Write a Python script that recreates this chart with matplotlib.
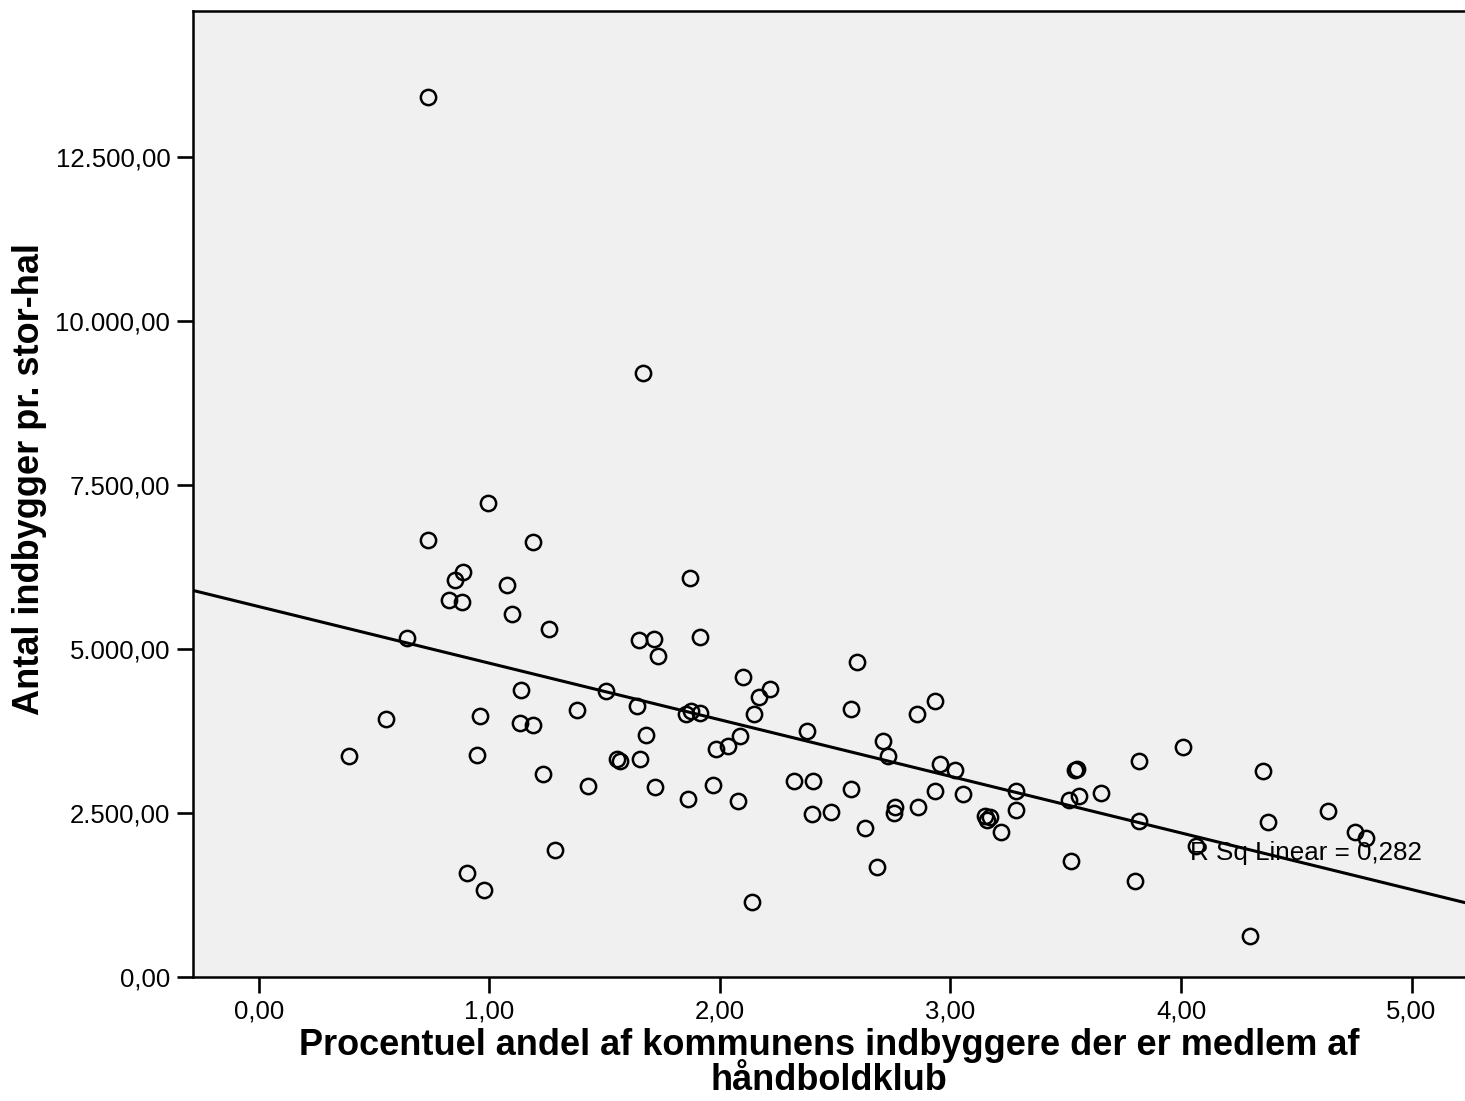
import numpy as np
import matplotlib
matplotlib.use('Agg')
import matplotlib.pyplot as plt
from matplotlib.ticker import FuncFormatter

#%% DATA
pct_members = [0.734, 1.666, 0.995, 0.734, 1.187, 0.886, 0.850, 1.076, 1.871, 0.826,
               0.881, 1.096, 1.257, 0.643, 1.649, 1.715, 1.915, 1.732, 2.593, 2.101,
               2.217, 2.168, 1.137, 1.505, 2.933, 1.639, 2.570, 2.855, 1.380, 1.852,
               1.873, 1.913, 2.149, 0.959, 0.551, 1.134, 1.189, 2.376, 1.678, 2.088,
               2.708, 2.035, 1.984, 2.730, 0.390, 0.944, 1.554, 1.566, 1.651, 2.953,
               3.018, 3.816, 4.010, 3.547, 3.542, 4.357, 1.231, 1.426, 1.718, 1.968,
               2.322, 2.402, 2.567, 2.933, 3.056, 3.283, 3.654, 3.559, 3.514, 1.861,
               2.077, 2.761, 2.755, 2.859, 2.399, 2.483, 3.283, 4.636, 3.150, 3.171,
               3.160, 3.819, 4.376, 2.629, 3.220, 4.755, 4.801, 4.065, 1.283, 3.523,
               2.681, 0.904, 0.977, 3.799, 2.139, 4.301]
residents_per_hall = [13420, 9206, 7226, 6656, 6626, 6168, 6046, 5980, 6087, 5740,
                      5710, 5527, 5308, 5171, 5130, 5156, 5180, 4896, 4798, 4576,
                      4386, 4270, 4371, 4356, 4203, 4133, 4076, 4011, 4061, 4000,
                      4050, 4026, 4000, 3974, 3924, 3873, 3832, 3745, 3684, 3679,
                      3588, 3516, 3476, 3363, 3366, 3382, 3318, 3293, 3313, 3247,
                      3160, 3293, 3501, 3171, 3153, 3145, 3089, 2905, 2890, 2931,
                      2992, 2992, 2860, 2835, 2789, 2840, 2809, 2753, 2698, 2713,
                      2687, 2588, 2504, 2591, 2489, 2514, 2545, 2530, 2458, 2443,
                      2397, 2382, 2366, 2270, 2203, 2203, 2118, 2000, 1939, 1760,
                      1672, 1588, 1318, 1466, 1134, 626]

# linear fit shown in the chart
FIT_INTERCEPT = 5645.0
FIT_SLOPE = -863.0
R_SQ = 0.282

x_ticks = [0, 1, 2, 3, 4, 5]
y_ticks = [0, 2500, 5000, 7500, 10000, 12500]

#%% PLOT
plt.rcParams['font.family'] = ['Liberation Sans', 'DejaVu Sans']

fig = plt.figure(figsize=(14.65, 11.01), dpi=100)
ax = fig.add_axes([0.1319, 0.1129, 0.8681, 0.8771])
ax.set_facecolor('#f0f0f0')

ax.plot(pct_members, residents_per_hall, linestyle='none', marker='o',
        markersize=11, markerfacecolor='none', markeredgecolor='black',
        markeredgewidth=1.8)

xlim = (-0.285, 5.232)
xs = np.array(xlim)
ax.plot(xs, FIT_INTERCEPT + FIT_SLOPE * xs, color='black', lw=2.2)

ax.text(4.039, 1786, 'R Sq Linear = ' + ('%.3f' % R_SQ).replace('.', ','),
        fontsize=18.7, va='baseline', ha='left')

ax.set_xlim(*xlim)
ax.set_ylim(0, 14730)
ax.set_xticks(x_ticks)
ax.set_yticks(y_ticks)


def dk_fmt(v, pos):
    s = '{:,.2f}'.format(v)
    return s.replace(',', 'X').replace('.', ',').replace('X', '.')


ax.xaxis.set_major_formatter(FuncFormatter(dk_fmt))
ax.yaxis.set_major_formatter(FuncFormatter(dk_fmt))
ax.tick_params(axis='both', length=11.5, width=1.9, labelsize=18.5, pad=5)

for side in ['left', 'top', 'bottom']:
    ax.spines[side].set_linewidth(1.8)
ax.spines['right'].set_visible(False)

ax.set_xlabel('Procentuel andel af kommunens indbyggere der er medlem af\nhåndboldklub',
              fontsize=26, fontweight='bold', labelpad=3, linespacing=1.02)
fig.text(30 / 1465, 1 - 479 / 1101, 'Antal indbygger pr. stor-hal', rotation=90,
         fontsize=26, fontweight='bold', ha='center', va='center')

fig.savefig('out.png', dpi=100)
